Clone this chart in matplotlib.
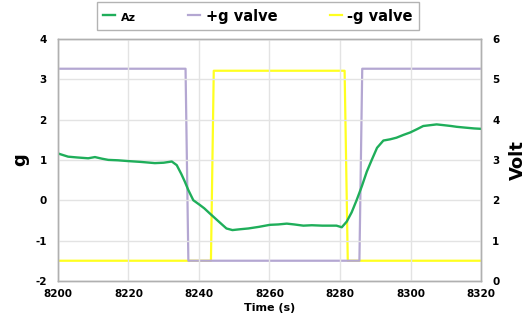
import matplotlib
matplotlib.use("Agg")
import matplotlib.pyplot as plt

# Az (g) data
az_t = [8200.0, 8202.9, 8205.5, 8208.6, 8210.5, 8212.5, 8214.3, 8217.0, 8220.0, 8223.5, 8227.5, 8230.0, 8232.3,
        8233.7, 8235.0, 8236.0, 8237.0, 8238.4, 8240.3, 8241.5, 8243.1, 8245.5, 8247.8, 8249.5, 8251.6,
        8254.0, 8257.0, 8260.1, 8262.5, 8264.9, 8267.0, 8269.6, 8272.0, 8275.0, 8277.0, 8279.0, 8280.5,
        8281.9, 8283.3, 8284.7, 8286.2, 8287.6, 8289.0, 8290.5, 8292.3, 8294.2, 8296.0, 8298.0, 8299.9,
        8301.8, 8303.6, 8305.5, 8307.4, 8309.5, 8311.5, 8313.1, 8315.5, 8318.0, 8320.0]
az_g = [1.16, 1.08, 1.06, 1.04, 1.07, 1.03, 1.00, 0.99, 0.97, 0.95, 0.92, 0.93, 0.96,
        0.87, 0.65, 0.46, 0.25, 0.00, -0.12, -0.20, -0.33, -0.52, -0.70, -0.74, -0.72,
        -0.70, -0.66, -0.61, -0.60, -0.58, -0.60, -0.63, -0.62, -0.63, -0.63, -0.63, -0.67,
        -0.53, -0.30, 0.00, 0.35, 0.71, 1.00, 1.30, 1.48, 1.51, 1.55, 1.62, 1.68,
        1.76, 1.84, 1.86, 1.88, 1.86, 1.84, 1.82, 1.80, 1.78, 1.77]

# +g valve (Volt)
pg_t = [8200.0, 8236.2, 8237.0, 8285.5, 8286.3, 8320.0]
pg_v = [5.26, 5.26, 0.50, 0.50, 5.26, 5.26]

# -g valve (Volt)
ng_t = [8200.0, 8243.4, 8244.2, 8281.3, 8282.2, 8320.0]
ng_v = [0.50, 0.50, 5.21, 5.21, 0.50, 0.50]

x_ticks = [8200, 8220, 8240, 8260, 8280, 8300, 8320]

plt.rcParams['font.family'] = ['DejaVu Sans']
plt.rcParams['axes.unicode_minus'] = False
fig = plt.figure(figsize=(5.31, 3.24), dpi=100)
ax = fig.add_axes([0.109, 0.133, 0.797, 0.747])
ax2 = ax.twinx()

c_green = '#1fae5a'
c_purple = '#b4a7d2'
c_yellow = '#ffff20'

l3, = ax2.plot(ng_t, ng_v, color=c_yellow, lw=1.6, label='-g valve')
l2, = ax2.plot(pg_t, pg_v, color=c_purple, lw=1.6, label='+g valve')
l1, = ax.plot(az_t, az_g, color=c_green, lw=1.7, label='Az')
ax.set_zorder(ax2.get_zorder() + 1)
ax.patch.set_visible(False)

ax.set_xlim(8200, 8320)
ax.set_ylim(-2, 4)
ax2.set_ylim(0, 6)
ax.set_xticks(x_ticks)
ax.set_yticks(range(-2, 5))
ax2.set_yticks(range(0, 7))

ax.grid(True, color='#e3e3e3', lw=1.0)
ax.set_axisbelow(True)
for a in (ax, ax2):
    for s in a.spines.values():
        s.set_color('#b0b0b0')
        s.set_linewidth(1.0)
    a.tick_params(length=0, labelsize=7.5, pad=8)
    for lab in a.get_xticklabels() + a.get_yticklabels():
        lab.set_fontweight('bold')
ax.tick_params(axis='x', pad=6)

ax.set_xlabel('Time (s)', fontsize=8, fontweight='bold', labelpad=3)
ax.set_ylabel('g', fontsize=13, fontweight='bold', labelpad=4)
ax2.set_ylabel('Volt', fontsize=13, fontweight='bold', labelpad=7)

leg = fig.legend([l1, l2, l3], ['Az', '+g valve', '-g valve'], loc='center',
                 bbox_to_anchor=(0.486, 0.9505), ncol=3, frameon=True, fancybox=False,
                 handlelength=0.8, handletextpad=0.4, columnspacing=3.6,
                 borderpad=0.45, borderaxespad=0, fontsize=10.5)
leg.get_frame().set_edgecolor('#a0a0a0')
leg.get_frame().set_linewidth(1.0)
for i, t in enumerate(leg.get_texts()):
    t.set_fontweight('bold')
    if i == 0:
        t.set_fontsize(8)

fig.savefig('out.png', dpi=100)
